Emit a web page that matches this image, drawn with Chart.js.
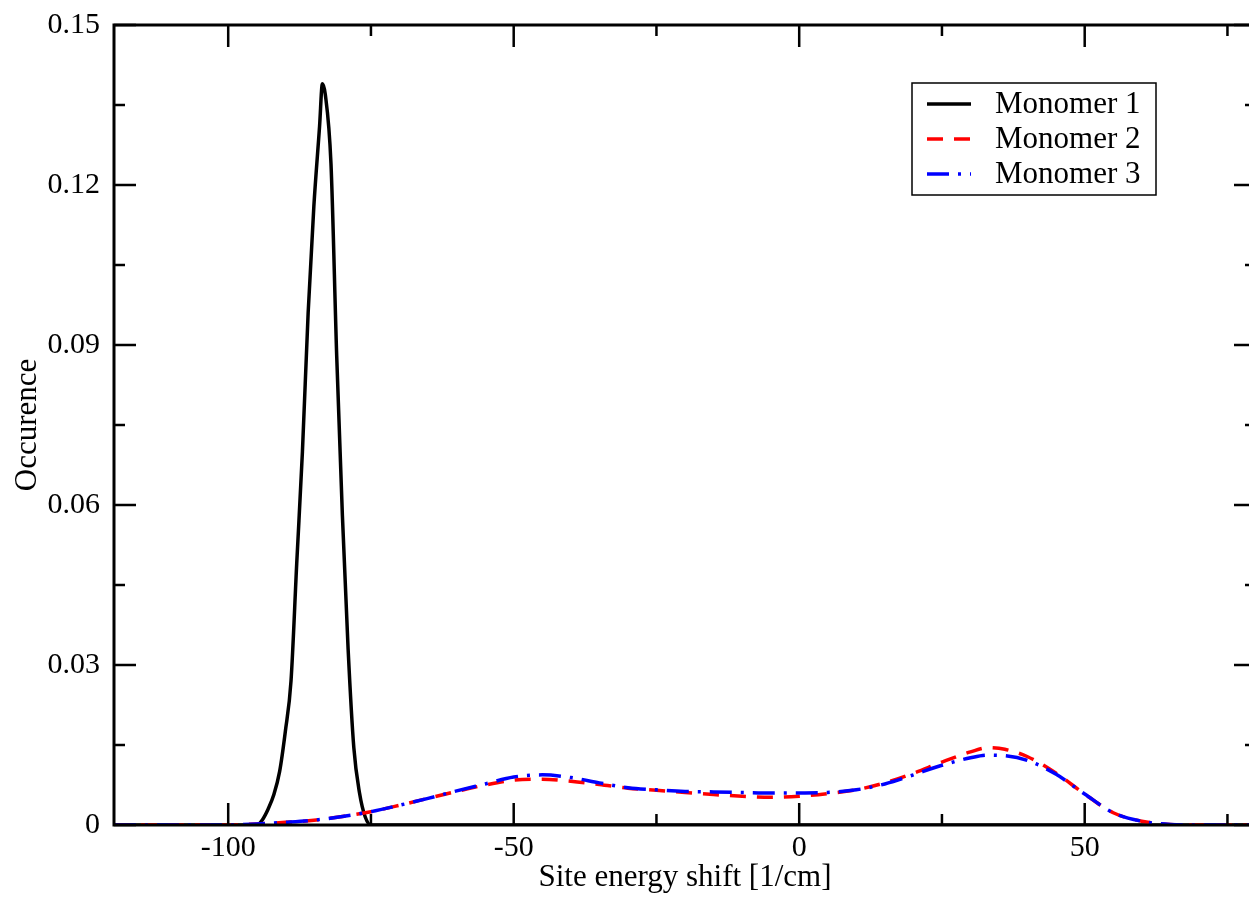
<!DOCTYPE html>
<html>
<head>
<meta charset="utf-8">
<script src="https://cdn.jsdelivr.net/npm/chart.js@4/dist/chart.umd.min.js"></script>
<style>
  body { margin: 0; overflow: hidden; background: #fff; }
</style>
</head>
<body>
<canvas id="distChart" width="1260" height="901"></canvas>
<script>
// monomer 1 - sharp peak
const m1X = [-120, -100, -95, -94, -93, -92, -91, -90, -89, -88, -87, -86, -85, -84, -83.5, -83, -82, -81, -80, -79, -78, -77, -76, -75, -70, 80];
const m1Y = [0, 0, 0, 0.001, 0.003, 0.0057, 0.010, 0.0175, 0.027, 0.049, 0.070, 0.096, 0.116, 0.131, 0.139, 0.137, 0.124, 0.088, 0.058, 0.033, 0.0145, 0.006, 0.0015, 0, 0, 0];

// monomers 2 and 3 share the same x grid
const broadX = [-120, -110, -100, -95, -90, -85, -80, -75, -70, -65, -60, -55, -50, -45, -40, -35, -30, -25, -20, -15, -10, -5, 0, 5, 10, 15, 20, 25, 30, 33, 36, 40, 45, 50, 55, 60, 65, 70, 80];
const m2Y = [0, 0, 0, 0.0002, 0.0005, 0.0009, 0.0016, 0.0025, 0.0037, 0.005, 0.0063, 0.0075, 0.0084, 0.0086, 0.0082, 0.0076, 0.0069, 0.0065, 0.0061, 0.0057, 0.0054, 0.0052, 0.0054, 0.0059, 0.0066, 0.0079, 0.0097, 0.0118, 0.0137, 0.0145, 0.0142, 0.0128, 0.0097, 0.0058, 0.0023, 0.0007, 0.0001, 0, 0];
const m3Y = [0, 0, 0, 0.0002, 0.0005, 0.0009, 0.0016, 0.0025, 0.0037, 0.005, 0.0064, 0.0077, 0.009, 0.0094, 0.0089, 0.0079, 0.007, 0.0066, 0.0063, 0.0062, 0.0061, 0.006, 0.006, 0.0061, 0.0066, 0.0077, 0.0094, 0.0112, 0.0126, 0.0131, 0.0130, 0.0121, 0.0095, 0.0058, 0.0023, 0.0007, 0.0001, 0, 0];

const seriesNames = ["Monomer 1", "Monomer 2", "Monomer 3"];

// tick labels
const xMajor = [-100, -50, 0, 50];
const xMinor = [-75, -25, 25, 75];
const yMajor = [0, 0.03, 0.06, 0.09, 0.12, 0.15];
const yMinor = [0.015, 0.045, 0.075, 0.105, 0.135];

const serif = "'Liberation Serif', 'Times New Roman', serif";

function toPoints(xs, ys) {
  return xs.map((x, i) => ({ x: x, y: ys[i] }));
}

// frame + inward ticks on all four sides
const framePlugin = {
  id: "frame",
  afterDatasetsDraw(chart) {
    const ctx = chart.ctx;
    const a = chart.chartArea;
    const xs = chart.scales.x;
    const ys = chart.scales.y;
    ctx.save();
    ctx.strokeStyle = "#000";
    ctx.lineWidth = 3;
    ctx.strokeRect(a.left, a.top, a.right - a.left, a.bottom - a.top);
    ctx.lineWidth = 2.5;
    ctx.beginPath();
    const tick = (vals, len) => {
      vals.forEach(v => {
        const px = xs.getPixelForValue(v);
        ctx.moveTo(px, a.bottom); ctx.lineTo(px, a.bottom - len);
        ctx.moveTo(px, a.top); ctx.lineTo(px, a.top + len);
      });
    };
    const ytick = (vals, len) => {
      vals.forEach(v => {
        const py = ys.getPixelForValue(v);
        ctx.moveTo(a.left, py); ctx.lineTo(a.left + len, py);
        ctx.moveTo(a.right, py); ctx.lineTo(a.right - len, py);
      });
    };
    tick(xMajor, 22);
    tick(xMinor, 11);
    ytick(yMajor, 22);
    ytick(yMinor, 11);
    ctx.stroke();
    ctx.restore();
  }
};

// boxed legend inside the plot, top right
const legendPlugin = {
  id: "boxLegend",
  afterDraw(chart) {
    const ctx = chart.ctx;
    ctx.save();
    ctx.fillStyle = "#fff";
    ctx.fillRect(912, 83, 244, 112);
    ctx.strokeStyle = "#000";
    ctx.lineWidth = 1.5;
    ctx.strokeRect(912, 83, 244, 112);
    ctx.font = "31px " + serif;
    ctx.textBaseline = "middle";
    const rows = [104, 139, 174];
    chart.data.datasets.forEach((ds, i) => {
      const y = rows[i];
      ctx.beginPath();
      ctx.strokeStyle = ds.borderColor;
      ctx.lineWidth = 3.5;
      ctx.setLineDash(ds.borderDash || []);
      ctx.moveTo(927, y);
      ctx.lineTo(971, y);
      ctx.stroke();
      ctx.setLineDash([]);
      ctx.fillStyle = "#000";
      ctx.fillText(ds.label, 995, y + 1);
    });
    ctx.restore();
  }
};

new Chart(document.getElementById("distChart"), {
  type: "line",
  data: {
    datasets: [
      {
        label: seriesNames[0],
        data: toPoints(m1X, m1Y),
        borderColor: "#000000",
        borderWidth: 3.5,
        order: 3
      },
      {
        label: seriesNames[1],
        data: toPoints(broadX, m2Y),
        borderColor: "#ff0000",
        borderWidth: 3.5,
        borderDash: [16, 11],
        order: 2
      },
      {
        label: seriesNames[2],
        data: toPoints(broadX, m3Y),
        borderColor: "#0000ff",
        borderWidth: 3.5,
        borderDash: [22, 9, 3, 9],
        order: 1
      }
    ]
  },
  options: {
    responsive: false,
    animation: false,
    layout: { padding: { top: 25, right: 4, left: 0, bottom: 0 } },
    elements: {
      point: { radius: 0 },
      line: { cubicInterpolationMode: "monotone", fill: false }
    },
    plugins: {
      legend: { display: false },
      tooltip: { enabled: false }
    },
    scales: {
      x: {
        type: "linear",
        min: -120,
        max: 80,
        afterBuildTicks: s => { s.ticks = xMajor.map(v => ({ value: v })); },
        afterFit: s => { s.height = 76; s.paddingLeft = 0; s.paddingRight = 0; },
        grid: { display: false, drawTicks: false },
        border: { display: false },
        ticks: {
          color: "#000",
          padding: 5,
          maxRotation: 0,
          font: { family: serif, size: 30 },
          callback: v => String(v)
        },
        title: {
          display: true,
          text: "Site energy shift [1/cm]",
          color: "#000",
          font: { family: serif, size: 31, lineHeight: 1.2 },
          padding: { top: 0, bottom: 5 }
        }
      },
      y: {
        min: 0,
        max: 0.15,
        afterBuildTicks: s => { s.ticks = yMajor.map(v => ({ value: v })); },
        afterFit: s => { s.width = 114; s.paddingTop = 0; s.paddingBottom = 0; },
        grid: { display: false, drawTicks: false },
        border: { display: false },
        ticks: {
          color: "#000",
          padding: 14,
          font: { family: serif, size: 30 },
          callback: v => (v === 0 ? "0" : v.toFixed(2))
        },
        title: {
          display: true,
          text: "Occurence",
          color: "#000",
          font: { family: serif, size: 31, lineHeight: 1.2 },
          padding: { top: 9, bottom: 0 }
        }
      }
    }
  },
  plugins: [framePlugin, legendPlugin]
});
</script>
</body>
</html>
